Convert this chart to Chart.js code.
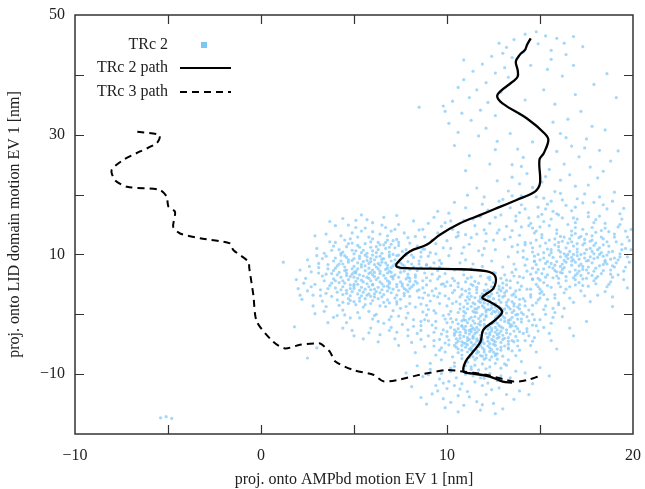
<!DOCTYPE html>
<html>
<head>
<meta charset="utf-8">
<script src="https://cdn.jsdelivr.net/npm/chart.js@4.4.1/dist/chart.umd.min.js"></script>
<style>
  html, body { margin: 0; padding: 0; background: #fff; }
  #plot { display: block; }
</style>
</head>
<body>
<canvas id="plot" width="645" height="489"></canvas>
<script>
'use strict';

// ── AXES ──
const X_TICKS  = [-10, -5, 0, 5, 10, 15, 20];
const X_LABELS = [-10, 0, 10, 20];
const Y_TICKS  = [-20, -10, 0, 10, 20, 30, 40, 50];
const Y_LABELS = [-10, 10, 30, 50];

// ── PATHS (x, y in nm) ──
const trc2Path = [
  [14.5,46.1],[14.3,45.0],[14.2,44.2],[13.9,43.3],[13.7,42.2],[13.8,40.8],[13.8,39.7],[13.55,38.9],
  [12.85,37.2],[12.7,36.35],[13.0,35.2],[14.3,32.7],[15.25,30.2],[15.45,29.1],[15.2,26.9],[14.97,25.8],
  [15.0,21.9],[14.73,20.5],[13.74,19.1],[12.5,17.5],[11.8,16.6],[10.7,15.2],[9.6,13.25],[8.9,11.6],
  [8.0,10.5],[7.3,8.5],[7.3,7.95],[7.8,7.7],[10.3,7.56],[12.1,7.2],[12.6,6.3],[12.5,4.35],
  [11.9,2.8],[12.3,2.1],[12.85,1.0],[12.95,0.2],[12.5,-1.2],[11.95,-2.6],[11.8,-4.6],[11.4,-6.25],
  [11.0,-7.9],[10.9,-9.6],[11.4,-9.9],[12.3,-10.4],[13.0,-11.25],[13.5,-11.4]
];
const trc3Path = [
  [-6.65,30.5],[-5.45,29.95],[-5.6,28.6],[-6.5,27.2],[-7.4,25.8],[-8.03,24.1],[-7.85,22.4],[-7.2,21.3],
  [-5.45,20.8],[-5.07,19.65],[-4.98,18.0],[-4.62,17.1],[-4.72,14.6],[-4.35,13.5],[-3.28,12.7],[-1.67,11.85],
  [-1.49,10.75],[-0.68,8.8],[-0.63,7.7],[-0.41,3.2],[-0.23,-1.2],[0.66,-4.6],[1.29,-5.7],[2.1,-5.1],
  [3.0,-4.85],[3.2,-4.9],[3.7,-6.25],[4.0,-7.9],[4.96,-9.3],[6.04,-10.1],[6.58,-11.2],[7.3,-11.0],
  [8.55,-10.1],[10.0,-9.3],[10.7,-9.5],[12.1,-10.1],[13.6,-11.25],[14.3,-11.0],[14.9,-10.4]
];

// ── TRc 2 SAMPLES ──
const cloudUpper = [
  [14.8,47.2],[15.3,46.5],[14.2,46.8],[13.6,45.9],[15.9,46.1],[14.9,45.2],[13.2,44.6],[12.8,45.3],[15.6,44.1],[14.1,43.8],
  [13.5,42.9],[16.4,43.4],[17.3,44.7],[12.4,43.1],[11.9,41.8],[13.1,41.2],[12.6,40.3],[11.4,40.6],[10.9,39.2],[12.1,38.7],
  [13.3,39.6],[11.6,37.5],[10.6,37.9],[12.9,37.1],[11.2,36.2],[10.3,35.6],[12.2,35.4],[11.8,34.1],[10.8,33.6],[12.6,33.2],
  [11.3,32.4],[10.1,31.9],[12.1,31.1],[11.7,29.8],[10.6,30.4],[13.4,30.2],[12.7,28.9],[9.8,34.8],[10.4,28.2],[16.8,41.6],
  [17.9,38.4],[16.2,39.8],[15.4,40.9],[16.9,36.7],[15.8,35.1],[17.2,33.9],[16.5,32.6],[17.8,31.4],[16.1,30.2],[17.5,29.3],
  [16.7,28.1],[18.2,27.4],[15.9,27.2],[17.1,26.3],[16.3,25.1],[17.7,24.6],[15.5,24.2],[16.6,23.3],[18.1,22.8],[14.3,23.5],
  [15.1,22.1],[16.9,21.4],[14.6,21.2],[15.8,20.5],[17.4,20.1],[13.9,21.8],[14.8,19.6],[16.2,19.1],[13.5,19.8],[15.4,18.4],
  [17.9,18.7],[14.2,17.6],[12.8,18.9],[16.7,17.3],[15.9,16.8],[13.7,16.4],[18.6,40.2],[11.2,26.5],[12.3,25.1],[13.8,27.6],
  [14.1,26.2],[13.5,25.0],[14.6,28.8],[14.2,35.8],[13.9,33.5],[15.2,37.5],[15.7,32.1],[8.5,34.6],[9.9,33.9],[19.1,36.2],
  [19.2,27.3],[18.5,30.8],[16.3,45.3],[11.1,19.9]
];
const cloudFillUpper = [
  [10.1,16.9],[11.0,17.8],[12.0,19.6],[13.3,20.6],[14.0,19.8],[15.2,19.4],[16.1,20.2],[17.0,19.3],[18.2,19.6],[19.0,20.4],
  [10.4,18.7],[9.5,17.2],[11.6,21.1],[12.7,22.3],[13.5,22.9],[15.3,23.0],[16.1,22.4],[17.6,21.6],[18.4,23.9],[14.0,24.7],
  [12.6,27.5],[11.0,24.0],[17.4,27.8],[16.4,29.5],[18.8,25.6],[10.9,42.5],[14.5,41.6],[15.6,42.6],[13.0,43.6],[16.8,46.4]
];
const cloudRight = [
  [17.2,8.4],[16.8,9.1],[17.6,7.9],[16.4,8.7],[17.9,9.3],[16.9,7.4],[17.4,10.2],[18.2,8.1],[16.1,9.6],[17.0,6.8],
  [18.5,9.0],[15.8,8.2],[17.7,11.0],[16.6,10.5],[18.8,7.4],[16.2,6.9],[17.3,5.9],[18.1,10.8],[15.5,9.9],[19.1,8.6],
  [16.0,11.3],[17.8,6.5],[15.2,7.6],[18.4,11.6],[16.7,12.1],[19.3,10.1],[15.6,10.8],[17.1,12.8],[18.9,6.2],[16.4,5.6],
  [15.0,9.1],[19.6,7.9],[17.5,13.4],[16.1,13.0],[18.3,12.9],[15.3,11.9],[19.4,11.7],[14.8,8.3],[16.9,4.9],[18.0,5.1],
  [15.7,6.1],[19.7,9.6],[17.3,14.2],[15.9,14.1],[18.7,13.8],[14.6,10.4],[16.5,15.0],[17.9,15.3],[15.1,12.8],[19.0,12.9],
  [14.3,9.2],[18.6,4.6],[15.4,4.8],[17.2,3.9],[16.3,3.6],[19.5,5.8],[14.9,6.0],[19.8,12.3],[14.7,13.6],[16.8,16.1],
  [18.2,16.4],[15.6,15.9],[17.6,17.0],[14.2,11.6],[19.2,14.6],[15.0,3.5],[18.1,3.2],[16.6,2.7],[17.7,2.1],[19.7,4.4],
  [14.5,4.2],[16.0,1.9],[18.9,2.9],[15.7,17.2],[19.4,15.9],[17.0,9.8],[16.3,7.8],[17.5,8.9],[18.4,9.7],[16.8,6.1],
  [17.9,7.2],[16.5,10.0],[18.0,11.9],[15.9,7.1],[17.3,11.6],[18.7,10.4],[16.1,8.0],[17.1,7.2],[18.3,6.8],[16.7,9.5],
  [17.4,9.4],[15.4,8.8],[18.6,8.4],[17.0,10.9],[16.2,12.2],[19.0,9.4],[15.8,12.6],[17.8,12.4],[16.9,13.5],[18.5,14.4],
  [19.9,10.8],[14.4,14.8],[15.2,5.3],[17.6,4.7],[16.4,4.2],[18.8,5.4]
];
const cloudRightCore = [
  [16.9,8.7],[17.3,8.0],[16.5,9.3],[17.7,9.6],[16.2,7.5],[17.0,10.4],[17.8,8.6],[16.6,7.1],[17.5,10.8],[15.9,8.8],
  [18.1,9.5],[16.3,10.1],[17.2,6.5],[18.3,10.3],[15.7,9.5],[16.8,11.4],[17.6,6.9],[16.0,10.7],[18.0,7.7],[15.5,7.9],
  [17.4,11.9],[16.4,6.3],[18.5,8.7],[15.8,11.6],[17.1,9.2],[16.7,8.2],[17.9,10.1],[16.1,7.0],[17.3,7.5],[18.2,11.1],
  [15.6,10.3],[16.9,5.8],[18.6,9.9],[15.3,8.5],[17.7,12.2],[16.5,11.9],[18.4,7.3],[15.9,6.4],[17.0,11.8],[16.2,8.4],
  [17.5,6.0],[18.7,11.4],[15.4,10.9],[16.6,12.6],[17.9,5.6],[15.2,9.4],[18.9,10.5],[16.0,5.2],[17.2,13.0],[15.8,7.3],
  [16.4,9.7],[17.6,9.0],[16.8,10.0],[18.1,6.3],[15.1,6.8],[19.2,9.1],[16.3,12.9],[17.8,13.1],[14.9,7.5],[19.0,7.9],
  [14.7,9.7],[15.5,12.4],[18.4,12.6],[16.1,4.6],[17.3,4.8],[19.4,10.8],[14.5,6.7],[15.0,11.4],[18.8,6.7],[16.7,13.9]
];
const cloudFillRight = [
  [15.6,8.5],[16.3,9.0],[17.1,8.1],[17.8,10.5],[18.4,8.3],[16.9,6.5],[16.0,12.0],[17.4,12.5],[18.6,12.1],[19.3,9.6],
  [19.6,11.0],[18.9,8.1],[18.0,6.0],[16.6,4.6],[15.4,6.6],[14.7,8.9],[15.2,10.3],[15.9,13.5],[16.9,14.5],[18.0,13.7],
  [19.0,13.4],[19.7,12.9],[19.5,7.2],[18.7,5.0],[17.4,3.1],[15.8,3.3],[15.0,5.7],[14.5,11.9],[15.5,14.8],[17.0,15.9],
  [18.5,15.2],[19.3,15.0],[17.6,16.3],[16.2,16.1],[14.9,16.3],[14.0,14.6],[14.1,10.6],[16.1,10.4],[17.2,10.0],[18.2,10.0],
  [17.5,7.4],[16.7,8.9],[15.7,7.7],[16.4,11.1],[17.9,11.5],[18.8,9.2],[19.2,6.6],[18.5,3.8],[17.1,5.3],[16.0,6.0],
  [14.6,7.7],[15.1,13.3],[16.7,13.2],[18.3,14.0],[19.8,8.7],[19.9,14.2],[15.3,17.6],[16.9,17.9],[18.4,18.3],[19.5,17.7]
];
const cloudBridge = [
  [9.2,12.4],[9.8,11.1],[10.5,12.9],[10.1,9.8],[11.2,11.7],[10.8,10.2],[11.6,13.4],[12.1,12.2],[11.9,9.9],[12.6,10.8],
  [13.1,12.5],[12.8,14.1],[13.5,11.3],[13.9,13.2],[14.2,12.0],[13.3,9.6],[14.6,11.1],[12.3,15.2],[13.7,15.6],[14.4,16.1],
  [11.5,14.8],[10.3,14.2],[9.5,13.6],[8.8,12.9],[9.1,10.3],[10.7,8.6],[11.4,8.4],[12.4,8.9],[13.6,8.4],[14.1,9.5],
  [14.8,13.9],[12.9,16.6],[13.4,17.8],[11.8,16.3],[10.9,15.7],[14.0,18.3],[12.2,17.4],[13.0,7.9],[11.0,9.1],[9.6,9.0],
  [8.7,10.9],[10.2,11.0],[12.0,11.0],[13.8,10.4],[14.9,10.0],[9.9,15.3],[11.3,12.8],[12.7,13.6],[10.6,13.7],[13.2,14.7],
  [14.5,15.2],[8.5,14.1],[9.3,16.2],[11.7,10.6],[12.5,7.0],[14.3,7.2],[13.9,6.3],[12.3,6.2],[11.1,6.0],[9.9,6.8],
  [8.9,8.3],[10.4,7.4],[14.7,8.8],[15.0,14.6],[12.0,14.1],[10.0,12.3],[11.5,5.5],[13.4,5.6],[14.6,5.9]
];
const cloudBand = [
  [9.2,3.9],[9.6,1.8],[8.9,-0.1],[9.4,-1.2],[10.1,2.6],[8.7,2.7],[9.9,4.7],[8.5,4.1],[9.1,5.6],[10.3,6.0],
  [8.3,1.2],[9.7,-3.3],[8.6,-1.9],[10.0,-1.4],[9.3,-4.4],[8.4,-3.2],[7.9,-2.6],[8.1,-4.7],[7.3,-3.0],[7.0,-2.2],
  [6.6,-1.5],[7.8,-0.6],[10.6,5.2],[9.5,7.3],[11.3,7.6],[13.7,7.5],[14.2,8.2],[14.8,7.0],[15.3,6.2],[15.6,4.5],
  [14.9,4.6],[15.3,1.4],[15.7,-0.5],[14.7,-0.9],[15.0,2.7],[16.3,1.0],[16.8,2.0],[14.3,-2.9],[14.5,-5.2],[13.3,-7.6],
  [10.6,13.1],[11.4,15.9],[12.6,16.2],[13.9,17.0],[14.9,17.9],[15.6,18.9],[16.4,18.2],[17.3,18.6],[18.6,17.6],[19.3,16.8],
  [18.0,15.8],[16.9,15.3],[15.2,15.5],[14.6,14.4],[13.5,14.0],[12.5,12.4],[11.0,13.3],[10.2,15.6],[9.7,14.7],[9.0,15.2],
  [19.6,13.9],[19.1,12.1],[13.0,19.2],[11.9,18.4],[15.1,16.7],[17.8,14.5],[16.0,16.6],[18.9,18.9],[13.4,12.9],[12.1,13.5],
  [10.9,11.2],[9.4,11.8],[13.8,11.6],[14.8,12.4],[11.9,8.0],[10.9,7.4],[9.3,8.6],[10.8,4.2],[9.6,-6.0],[8.8,-5.4]
];
const cloudLeft = [
  [6.3,6.1],[5.8,6.8],[6.9,5.4],[5.4,5.7],[7.2,6.6],[6.0,4.9],[6.7,7.5],[5.1,7.2],[7.6,5.1],[4.8,6.3],
  [6.4,8.2],[5.6,4.2],[7.4,7.9],[4.5,5.2],[6.8,3.9],[5.2,8.6],[7.9,6.2],[4.2,7.0],[6.1,9.1],[8.1,4.6],
  [4.9,3.8],[7.0,8.9],[5.7,9.6],[3.9,5.9],[8.4,7.3],[6.5,2.9],[4.4,8.4],[7.7,3.5],[5.3,2.7],[3.6,7.6],
  [8.7,5.6],[6.2,10.3],[4.0,4.4],[7.3,9.8],[5.0,10.1],[8.9,8.2],[3.3,6.4],[6.9,1.9],[4.7,1.8],[8.2,9.5],
  [3.5,3.5],[5.9,11.2],[7.8,10.8],[4.3,9.9],[9.2,6.7],[6.6,11.6],[3.1,8.5],[5.5,1.2],[8.5,2.8],[2.9,5.0],
  [7.1,12.3],[4.6,11.3],[9.4,4.3],[6.0,12.6],[3.8,10.7],[8.0,11.9],[2.7,7.1],[5.2,12.9],[7.5,1.0],[4.1,2.4],
  [9.6,7.9],[6.4,13.4],[3.3,2.2],[8.6,10.4],[5.8,0.5],[2.5,3.9],[7.0,13.9],[4.9,13.6],[9.8,5.1],[6.7,14.5],
  [3.7,12.1],[8.3,13.0],[5.6,14.4],[2.4,6.0],[6.2,0.0],[4.4,0.7],[7.9,0.2],[9.1,2.2],[3.0,9.8],[6.0,15.3],
  [7.4,15.0],[5.1,15.7],[6.6,16.2],[2.8,1.4],[4.0,14.8],[8.7,14.2],[3.4,0.5],[5.3,-0.6],[6.9,-0.9],[4.6,-1.4],
  [7.6,-1.7],[5.9,-2.3],[6.4,-3.4],[4.9,-2.7],[5.5,-4.1],[8.2,-0.9],[3.9,-0.5],[9.3,0.6],[9.9,3.1],[2.2,2.5],
  [2.0,4.3],[6.0,7.4],[5.5,6.4],[6.6,6.5],[5.9,5.6],[6.3,4.5],[7.0,7.0],[5.0,5.0],[6.8,8.2],[5.4,7.9],
  [7.3,4.6],[4.6,7.4],[6.1,3.4],[7.7,7.2],[5.7,3.2],[4.3,6.2],[7.5,8.6],[6.4,9.7],[5.3,9.3],[4.1,8.1],
  [8.0,5.5],[5.0,4.3],[6.9,10.4],[4.7,9.1],[7.2,2.7],[3.7,4.8],[8.3,6.6],[5.8,8.5],[6.5,5.1],[7.1,5.9],
  [5.2,6.0],[6.2,7.9],[4.8,4.9],[7.6,9.4],[4.4,3.3],[6.8,2.4],[3.4,5.6],[8.8,6.9],[5.5,10.7],[6.9,11.2],
  [4.2,10.8],[7.8,4.1],[3.9,8.9],[8.5,8.9],[5.9,1.8],[6.3,12.0],[4.9,11.9],[5.1,1.6],[8.0,3.0],[3.2,4.1],
  [7.4,11.5]
];
const cloudLeftCore = [
  [5.3,6.6],[6.1,7.0],[6.7,6.0],[5.7,5.1],[7.0,7.8],[5.0,8.0],[6.4,5.4],[7.4,6.2],[5.9,8.8],[4.7,5.8],
  [6.6,9.3],[5.4,4.5],[7.8,7.7],[4.5,7.9],[6.2,3.8],[7.5,5.4],[5.6,9.9],[6.9,4.4],[4.9,6.7],[7.2,8.4],
  [6.0,10.6],[5.2,3.4],[8.0,6.0],[4.4,4.6],[6.5,8.7],[7.7,4.3],[5.8,7.7],[4.6,9.5],[7.1,10.0],[6.3,2.6],
  [5.5,5.4],[6.8,6.9],[4.8,3.1],[7.9,8.8],[5.1,10.6],[6.6,4.7],[4.2,5.3],[7.3,3.2],[5.9,4.1],[6.1,6.3],
  [5.6,7.3],[6.9,5.1],[4.3,8.9],[7.6,10.5],[5.3,2.2],[6.7,11.0],[8.2,4.9],[4.9,9.0],[6.4,7.2],[5.8,6.0],
  [7.0,3.6],[4.6,6.9],[6.2,9.6],[7.5,7.0],[5.4,8.3],[6.0,2.3],[7.8,5.9],[5.0,7.0],[6.5,10.2],[4.8,4.3],
  [7.2,9.1],[5.7,10.2],[6.8,7.7],[4.4,10.4],[7.4,4.0],[5.2,5.0],[6.3,8.5],[6.0,5.0],[7.7,8.1],[5.5,3.7],
  [6.9,9.6],[4.7,2.6],[7.1,6.3],[5.9,9.3],[6.6,3.3],[4.5,7.3],[7.9,3.8],[5.3,11.2],[6.4,11.6],[5.0,6.2],
  [5.6,1.6],[6.7,1.3],[4.1,3.7],[8.1,9.9],[3.8,6.8],[8.4,5.2],[3.6,8.3],[8.6,7.8],[4.0,9.4],[7.3,12.5]
];
const cloudDenseLeft = [
  [5.1,5.5],[6.2,5.8],[6.9,7.2],[5.6,8.1],[7.3,5.0],[4.6,6.5],[6.5,4.1],[5.3,9.7],[7.6,8.3],[6.0,9.9],
  [4.9,7.6],[7.1,4.2],[5.8,4.6],[6.7,8.6],[4.4,5.6],[7.9,6.7],[5.4,3.1],[6.3,10.8],[7.4,9.9],[4.7,8.7],
  [6.1,2.9],[8.2,7.9],[5.2,11.5],[6.8,5.6],[5.7,6.2],[4.3,4.1],[7.7,3.1],[6.4,6.8],[5.0,9.3],[7.2,11.1],
  [5.9,7.0],[6.6,2.0],[4.1,6.6],[8.0,4.3],[5.5,8.8],[6.9,9.9],[4.8,2.3],[7.5,7.6],[6.2,11.3],[5.3,4.0],
  [6.0,6.6],[7.0,6.3],[5.7,9.0],[4.5,9.8],[7.8,10.2],[6.4,3.6],[5.1,6.9],[8.3,6.2],[4.9,10.7],[6.7,12.0],
  [5.6,2.6],[7.3,1.7],[4.2,8.4],[6.3,7.6],[5.4,10.3],[7.1,8.1],[4.6,3.5],[8.5,8.4],[6.8,4.7],[5.8,3.4],
  [5.2,7.6],[6.5,9.2],[7.6,4.7],[4.0,7.7],[6.1,8.3],[5.0,4.7],[7.4,12.0],[5.9,12.1],[8.7,4.4],[4.7,11.8],
  [3.8,5.2],[3.5,9.7],[4.3,13.1],[8.8,10.9],[9.0,3.2],[3.2,3.1],[7.8,1.3],[6.1,-0.2],[4.5,-0.1],[7.0,-0.4]
];
const cloudFillLeft = [
  [3.1,6.9],[3.6,4.3],[2.8,3.2],[4.2,1.5],[3.3,9.3],[2.6,8.0],[4.5,12.4],[3.9,11.4],[5.4,13.9],[6.8,13.1],
  [7.7,13.6],[8.4,11.4],[9.0,9.7],[8.9,4.9],[9.3,3.1],[8.6,1.7],[7.4,-0.3],[6.3,-1.2],[5.2,0.3],[4.1,-0.2],
  [3.5,1.3],[2.9,0.1],[4.8,-0.6],[6.0,-0.8],[7.1,0.6],[8.0,1.8],[8.8,3.6],[9.5,5.9],[9.1,7.8],[8.1,8.4],
  [7.9,12.8],[6.5,14.9],[5.7,15.8],[4.7,14.9],[3.5,13.4],[3.0,11.0],[2.5,9.1],[2.3,5.2],[2.7,4.6],[3.8,3.0],
  [5.0,2.1],[6.4,1.4],[7.3,2.1],[8.4,3.9],[8.9,6.1],[7.8,9.9],[6.8,12.4],[5.8,12.9],[4.8,12.6],[4.0,12.0],
  [3.4,10.2],[3.1,7.8],[3.5,6.7],[4.0,5.6],[4.6,4.0],[5.9,3.0],[7.5,2.5],[8.3,5.5],[8.6,9.6],[7.0,11.7],
  [5.6,11.8],[4.3,10.2],[3.9,7.3],[4.4,2.0],[6.1,4.2],[7.9,4.9],[8.0,7.5],[6.0,13.8],[5.1,14.5],[7.2,14.2],
  [9.7,8.5],[9.4,10.1],[8.2,15.6],[7.3,16.5],[5.4,16.6],[4.4,16.0],[3.7,15.5],[2.9,13.1],[2.1,7.4],[1.9,5.8],
  [5.8,-3.1],[6.9,-2.7],[7.9,-3.6],[6.3,-4.6],[4.4,-2.3],[7.2,-4.1],[5.0,-3.6],[3.6,-1.4],[8.6,-1.2],[9.0,0.8]
];
const cloudCentre = [
  [12.6,1.2],[12.1,0.4],[13.0,-0.3],[11.8,-1.2],[12.9,2.0],[12.3,-2.1],[13.4,0.9],[11.5,-0.4],[12.7,-1.5],[11.2,-3.3],
  [13.2,-2.6],[12.0,2.7],[11.6,-4.1],[13.6,1.8],[10.9,-2.4],[12.4,3.4],[13.8,-0.8],[11.3,1.3],[12.2,-3.8],[10.8,-4.6],
  [13.1,3.1],[11.0,0.2],[14.0,0.3],[12.8,-3.2],[11.7,2.2],[10.6,-1.6],[13.5,-1.9],[11.4,-5.2],[12.5,4.3],[14.2,1.4],
  [10.4,-3.5],[13.3,-3.9],[11.9,-5.6],[10.7,0.9],[14.4,-1.1],[12.1,5.0],[13.7,3.9],[10.2,-0.7],[11.1,-6.3],[12.9,-4.7],
  [14.1,2.6],[10.5,2.1],[13.9,-2.9],[11.6,4.1],[10.1,-5.1],[12.4,-5.9],[14.6,0.0],[11.2,3.5],[13.0,5.2],[10.0,1.4],
  [14.3,-2.4],[9.8,-2.6],[12.7,-6.6],[11.4,-7.1],[14.8,1.9],[10.3,3.6],[13.6,-4.6],[9.6,-4.2],[15.0,-0.9],[12.2,6.1],
  [11.0,5.4],[13.8,5.3],[10.8,-7.4],[14.5,3.3],[9.4,0.2],[12.0,-7.5],[15.2,0.8],[9.2,-1.8],[13.3,-5.8],[10.6,4.6],
  [14.9,-2.8],[11.8,6.4],[9.9,-6.3],[13.1,6.6],[15.4,2.5],[12.6,-8.2],[9.0,-3.6],[10.4,-8.1],[14.2,-4.4],[15.6,-1.5],
  [9.5,2.9],[14.0,4.7],[11.5,-8.5],[13.7,-6.9],[8.8,-0.9],[15.1,3.8],[9.3,-5.3],[12.9,-9.0],[15.8,0.3],[10.0,5.4],
  [14.7,-3.9],[8.9,1.5],[11.3,-9.2],[13.5,7.0],[14.6,5.8],[15.5,-3.2],[9.7,-7.6],[16.0,1.6],[8.6,-2.7],[10.9,6.6],
  [12.3,0.8],[11.9,0.0],[12.6,-0.6],[12.2,1.7],[11.7,-2.6],[12.0,-1.7],[11.4,-3.8],[11.1,-4.4],[12.4,-2.8],[13.1,-1.2],
  [12.8,0.3],[11.6,0.9],[13.3,2.4],[12.5,2.6],[11.3,-1.9],[10.9,-3.7],[11.5,-5.0],[12.9,-2.1],[13.5,-0.5],[11.0,-5.5],
  [12.2,-4.5],[11.8,-4.8],[10.7,-3.0],[12.7,3.6],[13.2,1.5],[11.2,-0.8],[12.0,3.2],[11.5,2.8],[13.6,-1.4],[12.3,-3.4],
  [10.5,-4.1],[11.9,-3.0],[11.6,-6.0],[12.6,-5.2],[13.0,-3.5],[10.8,-1.1],[11.1,1.8],[13.9,0.9],[12.1,-6.8],[11.3,-2.9],
  [12.8,4.7],[13.4,4.4],[11.4,4.8],[10.2,-2.2],[10.6,-5.8],[12.4,-7.1],[13.7,2.9],[14.3,-0.4],[11.8,-6.9],[12.9,1.0]
];
const cloudCentreCore = [
  [12.4,0.1],[12.0,-0.9],[12.7,0.7],[11.6,-2.2],[12.9,-0.9],[11.3,-4.7],[12.5,-3.7],[11.9,1.4],[13.2,0.2],[11.0,-3.1],
  [12.2,-2.5],[11.7,-5.4],[12.8,2.4],[13.4,-1.7],[10.8,-5.2],[12.1,3.8],[11.4,0.5],[13.0,-4.2],[11.8,-3.5],[10.6,-2.4],
  [12.6,-1.1],[11.5,-1.5],[13.3,1.2],[12.3,-4.9],[11.2,2.5],[13.7,-0.1],[10.9,-0.3],[12.0,-5.9],[13.1,3.6],[11.6,-6.5],
  [12.7,-2.6],[10.7,-4.0],[13.5,2.1],[11.1,-1.4],[12.4,4.6],[13.8,-2.4],[11.4,-6.1],[12.9,-5.5],[10.5,-0.9],[11.8,3.0],
  [12.2,0.8],[12.6,1.8],[11.3,-2.5],[11.9,-4.2],[12.8,-0.1],[11.0,-4.9],[13.2,-3.1],[12.1,-3.2],[11.5,1.7],[13.6,0.6],
  [10.8,-1.9],[12.5,-6.3],[11.7,-0.7],[12.0,1.9],[13.0,2.9],[11.2,-5.8],[10.4,-3.2],[12.3,2.2],[13.9,1.6],[11.6,3.6],
  [12.7,-4.0],[10.9,1.2],[13.4,-3.3],[11.3,-6.8],[12.0,-2.2],[12.9,-6.0],[11.1,0.9],[13.6,3.4],[10.6,-6.4],[12.4,-1.6],
  [11.8,-1.8],[12.6,-3.0],[11.4,-3.6],[13.1,-0.6],[11.9,2.5],[12.2,-5.3],[10.7,2.9],[13.3,-5.0],[11.6,-4.5],[12.8,1.3],
  [10.3,-1.3],[12.5,5.3],[14.0,-1.3],[11.2,4.2],[13.7,-3.7],[10.5,-5.5],[12.1,-7.3],[13.0,4.4],[11.5,-7.6],[12.7,-7.5],
  [14.2,2.2],[10.2,0.5],[13.5,-6.1],[11.0,3.9],[14.4,0.7],[10.1,-4.3],[13.9,4.1],[12.3,5.8],[14.1,-3.2],[10.0,-2.9],
  [11.7,5.2],[13.2,5.7],[9.8,-0.2],[14.6,-1.8],[10.4,4.0],[14.5,2.9],[9.7,-5.6],[13.8,-5.3],[11.1,-8.0],[12.9,6.0]
];
const cloudDenseCentre = [
  [12.1,-0.2],[12.5,0.5],[11.7,-1.6],[12.8,-1.9],[11.4,-2.3],[12.3,-3.1],[11.1,-3.9],[11.9,-4.6],[12.6,1.6],[13.1,0.9],
  [11.6,0.3],[12.0,1.1],[13.4,-0.9],[11.2,-4.2],[12.4,-4.2],[11.5,-3.2],[12.9,-2.8],[11.8,-5.2],[10.9,-4.8],[12.2,2.4],
  [13.2,2.0],[11.3,-0.5],[12.7,-0.3],[11.0,-2.7],[12.6,-4.6],[11.7,-6.3],[12.3,-5.6],[13.5,0.3],[11.9,3.4],[12.8,3.1],
  [11.4,1.9],[10.7,-3.5],[13.0,-2.3],[12.1,-2.0],[11.6,-3.0],[12.5,-1.4],[13.3,-1.4],[11.1,-5.1],[10.8,-2.0],[12.0,-6.3],
  [12.4,1.0],[11.8,2.6],[13.6,1.4],[11.3,-6.0],[12.7,-5.8],[10.6,-4.5],[13.1,-4.0],[11.5,0.9],[12.2,-3.9],[11.0,-1.0],
  [12.9,0.1],[11.7,-4.4],[12.4,-2.4],[13.7,-2.0],[10.9,0.5],[12.0,4.0],[13.2,3.9],[11.3,3.0],[12.6,-6.6],[11.9,-7.0],
  [10.5,-2.9],[13.8,0.0],[12.8,4.2],[11.6,4.5],[10.7,1.7],[13.5,-4.4],[12.3,-7.6],[11.2,-7.2],[10.4,-5.2],[13.9,2.5],
  [12.1,0.7],[11.5,-2.6],[12.7,-3.4],[11.8,-0.3],[12.5,-5.0],[11.4,-4.0],[12.2,3.0],[10.8,-6.0],[13.3,-5.6],[11.0,2.3]
];
const cloudFillCentre = [
  [9.4,-2.3],[9.9,-0.8],[10.3,1.8],[9.6,3.5],[10.2,4.8],[11.3,6.2],[12.6,6.9],[13.6,6.4],[14.3,4.2],[14.9,2.4],
  [15.3,0.0],[14.8,-1.9],[14.4,-3.6],[13.8,-4.4],[13.1,-5.3],[12.6,-6.9],[11.9,-8.3],[11.0,-8.6],[10.3,-7.1],[9.9,-4.8],
  [10.4,-2.6],[10.9,-0.9],[11.5,0.3],[12.1,-0.4],[12.6,-2.2],[13.3,-1.0],[13.8,1.2],[13.5,3.2],[12.9,3.9],[12.3,3.0],
  [11.7,1.2],[11.4,-1.1],[11.2,-2.7],[11.8,-4.0],[12.5,-4.4],[13.4,-2.1],[14.1,0.0],[14.6,1.5],[10.8,3.3],[10.1,0.0],
  [9.3,-3.0],[9.0,-1.1],[8.7,0.4],[9.7,5.0],[11.6,-7.3],[12.3,-8.8],[13.0,-7.0],[13.9,-6.0],[14.6,-4.5],[15.2,-2.2],
  [15.7,1.0],[15.2,3.3],[14.8,5.0],[13.0,0.6],[12.4,1.5],[11.0,-2.0],[10.5,-4.8],[11.3,-5.6],[12.0,-4.9],[12.8,-3.8],
  [13.3,-4.5],[12.6,0.4],[11.8,2.0],[11.1,2.9],[10.6,0.3],[10.0,-3.7],[9.4,-6.8],[10.8,-6.8],[12.3,-6.2],[13.6,-2.8],
  [14.0,-0.8],[13.2,4.9],[12.2,4.1],[11.3,5.0],[10.4,5.6],[9.6,6.3],[14.1,6.1],[15.0,4.2],[15.8,2.7],[16.2,-0.4],
  [16.6,-2.3],[15.6,-4.4],[14.8,-6.3],[14.0,-7.9],[13.2,-8.5],[12.1,-9.1],[10.2,-9.0],[9.1,-8.2],[8.6,-4.2],[8.2,-2.0]
];
const cloudTail = [
  [10.2,-9.6],[11.4,-10.3],[9.6,-10.8],[12.3,-9.9],[10.8,-11.6],[9.1,-9.2],[11.9,-11.9],[10.0,-12.4],[12.8,-12.3],[11.1,-12.9],
  [9.4,-11.9],[13.4,-10.6],[10.6,-13.6],[12.1,-13.4],[9.8,-14.1],[11.6,-14.6],[8.7,-10.4],[13.9,-12.8],[10.9,-15.2],[12.5,-14.9],
  [9.2,-13.3],[14.2,-9.8],[11.3,-8.8],[8.4,-8.6],[13.1,-8.3],[10.4,-8.7],[12.7,-11.1],[9.9,-15.6],[11.8,-16.0],[14.6,-11.6],
  [8.1,-12.1],[15.0,-8.9],[13.6,-14.2],[8.9,-15.0],[10.5,-10.6],[11.0,-10.0],[9.7,-9.9],[12.0,-10.7],[10.1,-11.2],[11.7,-9.3],
  [15.5,-10.3],[7.8,-9.8],[13.0,-15.8]
];
const cloudFillTail = [
  [10.9,-9.1],[11.8,-10.6],[10.4,-11.9],[9.5,-12.8],[12.4,-12.6],[11.2,-13.8],[10.2,-14.7],[12.9,-10.3],[9.0,-10.1],[13.7,-9.5],
  [11.5,-11.3],[10.7,-12.5],[12.2,-11.5],[9.8,-11.5],[13.2,-13.4],[11.9,-15.1],[10.6,-16.3],[8.6,-13.9],[14.4,-13.4],[12.6,-16.6]
];
const cloudStray = [
  [1.2,8.7],[2.1,3.2],[2.5,-7.3],[1.8,-2.1],[3.0,-5.6],[-5.4,-17.3],[-5.1,-17.1],[-4.8,-17.4],[7.4,-5.2],[8.3,-6.4],
  [16.8,-3.6],[17.5,-1.2],[15.9,-5.8],[18.9,1.3]
];

// ── STYLE ──
const SERIF   = "'Liberation Serif', 'Times New Roman', serif";
const INK     = '#222';
const FRAME   = '#333';
const SKY     = 'rgba(130,200,247,0.72)';
const TICKLEN = 9;

const toXY = pts => pts.map(([x, y]) => ({ x, y }));
const fmt  = v => (v < 0 ? '\u2212' + Math.abs(v) : String(v));

// frame, inward ticks on all four sides, and the key in the top-left corner
const framePlugin = {
  id: 'frame',
  afterDraw(chart) {
    const { ctx, chartArea: a, scales } = chart;
    ctx.save();
    ctx.strokeStyle = FRAME;
    ctx.lineWidth = 1.5;
    ctx.strokeRect(a.left, a.top, a.right - a.left, a.bottom - a.top);

    ctx.lineWidth = 1.2;
    ctx.beginPath();
    X_TICKS.slice(1, -1).forEach(v => {
      const px = Math.round(scales.x.getPixelForValue(v)) + 0.5;
      ctx.moveTo(px, a.bottom); ctx.lineTo(px, a.bottom - TICKLEN);
      ctx.moveTo(px, a.top);    ctx.lineTo(px, a.top + TICKLEN);
    });
    Y_TICKS.slice(1, -1).forEach(v => {
      const py = Math.round(scales.y.getPixelForValue(v)) + 0.5;
      ctx.moveTo(a.left, py);  ctx.lineTo(a.left + TICKLEN, py);
      ctx.moveTo(a.right, py); ctx.lineTo(a.right - TICKLEN, py);
    });
    ctx.stroke();

    // key
    const textRight = 168, sx0 = 180, sx1 = 231;
    ctx.font = '16px ' + SERIF;
    ctx.fillStyle = INK;
    ctx.textAlign = 'right';
    ctx.textBaseline = 'middle';
    const rows = [45, 68, 92];
    ctx.fillText('TRc 2', textRight, rows[0]);
    ctx.fillText('TRc 2 path', textRight, rows[1]);
    ctx.fillText('TRc 3 path', textRight, rows[2]);

    ctx.fillStyle = '#7cc6f6';
    ctx.fillRect(201, rows[0] - 3, 6, 6);

    ctx.strokeStyle = '#000';
    ctx.lineWidth = 2.2;
    ctx.beginPath();
    ctx.moveTo(sx0, rows[1]); ctx.lineTo(sx1, rows[1]);
    ctx.stroke();

    ctx.lineWidth = 2;
    ctx.setLineDash([7, 5]);
    ctx.beginPath();
    ctx.moveTo(sx0, rows[2]); ctx.lineTo(sx1, rows[2]);
    ctx.stroke();
    ctx.restore();
  }
};

const cloud = [
  ...cloudUpper, ...cloudFillUpper,
  ...cloudRight, ...cloudRightCore, ...cloudFillRight,
  ...cloudBridge, ...cloudBand,
  ...cloudLeft, ...cloudLeftCore, ...cloudDenseLeft, ...cloudFillLeft,
  ...cloudCentre, ...cloudCentreCore, ...cloudDenseCentre, ...cloudFillCentre,
  ...cloudTail, ...cloudFillTail, ...cloudStray,
];

new Chart(document.getElementById('plot'), {
  type: 'scatter',
  data: {
    datasets: [
      {
        label: 'TRc 2 path',
        data: toXY(trc2Path),
        showLine: true,
        borderColor: '#000',
        borderWidth: 2.3,
        tension: 0.35,
        pointRadius: 0,
        order: 1,
      },
      {
        label: 'TRc 3 path',
        data: toXY(trc3Path),
        showLine: true,
        borderColor: '#000',
        borderWidth: 2,
        borderDash: [7, 5],
        tension: 0.25,
        pointRadius: 0,
        order: 2,
      },
      {
        label: 'TRc 2',
        data: toXY(cloud),
        backgroundColor: SKY,
        borderWidth: 0,
        pointRadius: 1.6,
        order: 3,
      },
    ]
  },
  options: {
    responsive: false,
    animation: false,
    layout: { padding: { left: 0, top: 15, right: 12, bottom: 0 } },
    plugins: { legend: { display: false }, tooltip: { enabled: false } },
    scales: {
      x: {
        type: 'linear',
        min: -10, max: 20,
        afterBuildTicks: s => { s.ticks = X_TICKS.map(v => ({ value: v })); },
        afterFit: s => { s.height = 55; s.paddingLeft = 0; s.paddingRight = 0; },
        grid: { display: false, drawTicks: false },
        border: { display: false },
        ticks: {
          autoSkip: false, maxRotation: 0, padding: 12,
          color: INK, font: { family: SERIF, size: 16 },
          callback: v => (X_LABELS.includes(v) ? fmt(v) : ''),
        },
        title: {
          display: true, text: 'proj. onto AMPbd motion EV 1 [nm]',
          color: INK, font: { family: SERIF, size: 16 }, padding: { top: 0, bottom: 0 },
        },
      },
      y: {
        type: 'linear',
        min: -20, max: 50,
        afterBuildTicks: s => { s.ticks = Y_TICKS.map(v => ({ value: v })); },
        afterFit: s => { s.width = 75; s.paddingTop = 0; s.paddingBottom = 0; },
        grid: { display: false, drawTicks: false },
        border: { display: false },
        ticks: {
          autoSkip: false, padding: 10,
          color: INK, font: { family: SERIF, size: 16 },
          callback: v => (Y_LABELS.includes(v) ? fmt(v) : ''),
        },
        title: {
          display: true, text: 'proj. onto LID domain motion EV 1 [nm]',
          color: INK, font: { family: SERIF, size: 16 }, padding: { top: 5, bottom: 0 },
        },
      },
    },
  },
  plugins: [framePlugin],
});
</script>
</body>
</html>
